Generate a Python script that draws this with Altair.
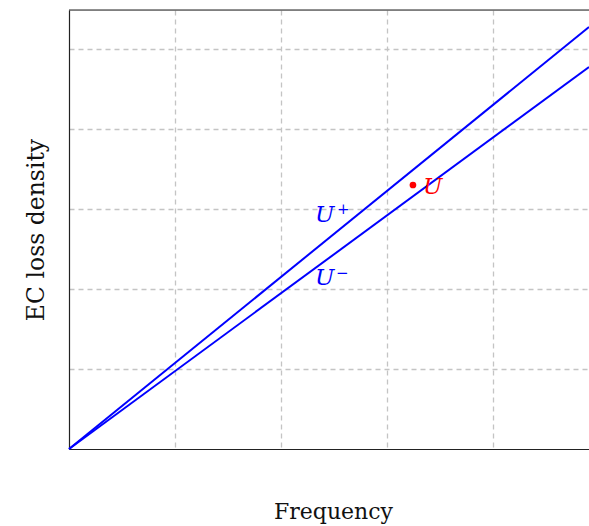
import altair as alt
import pandas as pd

# data
line_x = [0.0, 4.906]
uplus_y = [0.0, 5.275]
uminus_y = [0.0, 4.775]
point_x = [3.245]
point_y = [3.30]
label_names = ["U", "U", "U"]
label_sup = ["+", "\u2212", ""]
label_x = [2.32, 2.32, 3.34]
label_y = [2.925, 2.14, 3.275]
label_color = ["blue", "blue", "red"]
x_ticks = [1, 2, 3, 4]
y_ticks = [1, 2, 3, 4, 5]

FONT = "DejaVu Serif"
W, H = 520, 439

lines = pd.DataFrame({
    "x": line_x + line_x,
    "y": uplus_y + uminus_y,
    "series": ["U+"] * 2 + ["U-"] * 2,
})
pts = pd.DataFrame({"x": point_x, "y": point_y})
labs = pd.DataFrame({"x": label_x, "y": label_y, "t": label_names,
                     "s": label_sup, "c": label_color})

xs = alt.Scale(domain=[0, 4.906], nice=False, zero=False)
ys = alt.Scale(domain=[0, 5.4875], nice=False, zero=False)

grid_kw = dict(grid=True, gridDash=[5, 4], gridColor="#c4c4c4", gridWidth=1.3,
               labels=False, ticks=False, domainColor="#222222", domainWidth=1.2,
               titleFont=FONT, titleFontWeight="normal", titleColor="#111111")

xenc = alt.X("x:Q", scale=xs, axis=alt.Axis(
    title="Frequency", values=x_ticks, titleFontSize=22,
    titlePadding=52, titleX=264, **grid_kw))
yenc = alt.Y("y:Q", scale=ys, axis=alt.Axis(
    title="EC loss density", values=y_ticks, titleFontSize=23.5,
    titlePadding=21, **grid_kw))

line_layer = alt.Chart(lines).mark_line(strokeWidth=2, color="blue").encode(
    x=xenc, y=yenc, detail="series:N")

point_layer = alt.Chart(pts).mark_circle(size=45, color="red", opacity=1).encode(
    x="x:Q", y="y:Q")

text_layer = alt.Chart(labs).mark_text(
    font=FONT, fontSize=23, fontStyle="italic", align="left", baseline="middle"
).encode(x="x:Q", y="y:Q", text="t:N",
         color=alt.Color("c:N", scale=None))

plus_layer = alt.Chart(labs).transform_filter(alt.datum.s == "+").mark_text(
    font=FONT, fontSize=15, align="left", baseline="middle", dx=22, dy=-6
).encode(x="x:Q", y="y:Q", text="s:N",
         color=alt.Color("c:N", scale=None))

minus_layer = alt.Chart(labs).transform_filter(alt.datum.s == "\u2212").mark_text(
    font=FONT, fontSize=15, align="left", baseline="middle", dx=21, dy=-5
).encode(x="x:Q", y="y:Q", text="s:N",
         color=alt.Color("c:N", scale=None))

top_border = alt.Chart(pd.DataFrame({"a": [0]})).mark_rule(
    color="#222222", strokeWidth=1.2).encode(
    x=alt.value(0), x2=alt.value(W), y=alt.value(0))

chart = alt.layer(line_layer, point_layer, text_layer, plus_layer, minus_layer,
                  top_border).properties(
    width=W, height=H,
    autosize=alt.AutoSizeParams(type="none"),
    padding={"left": 69, "top": 10, "right": 0, "bottom": 77},
).configure_view(stroke=None).configure(background="white")

chart.save("out.html", embed_options={"renderer": "svg", "actions": False})
